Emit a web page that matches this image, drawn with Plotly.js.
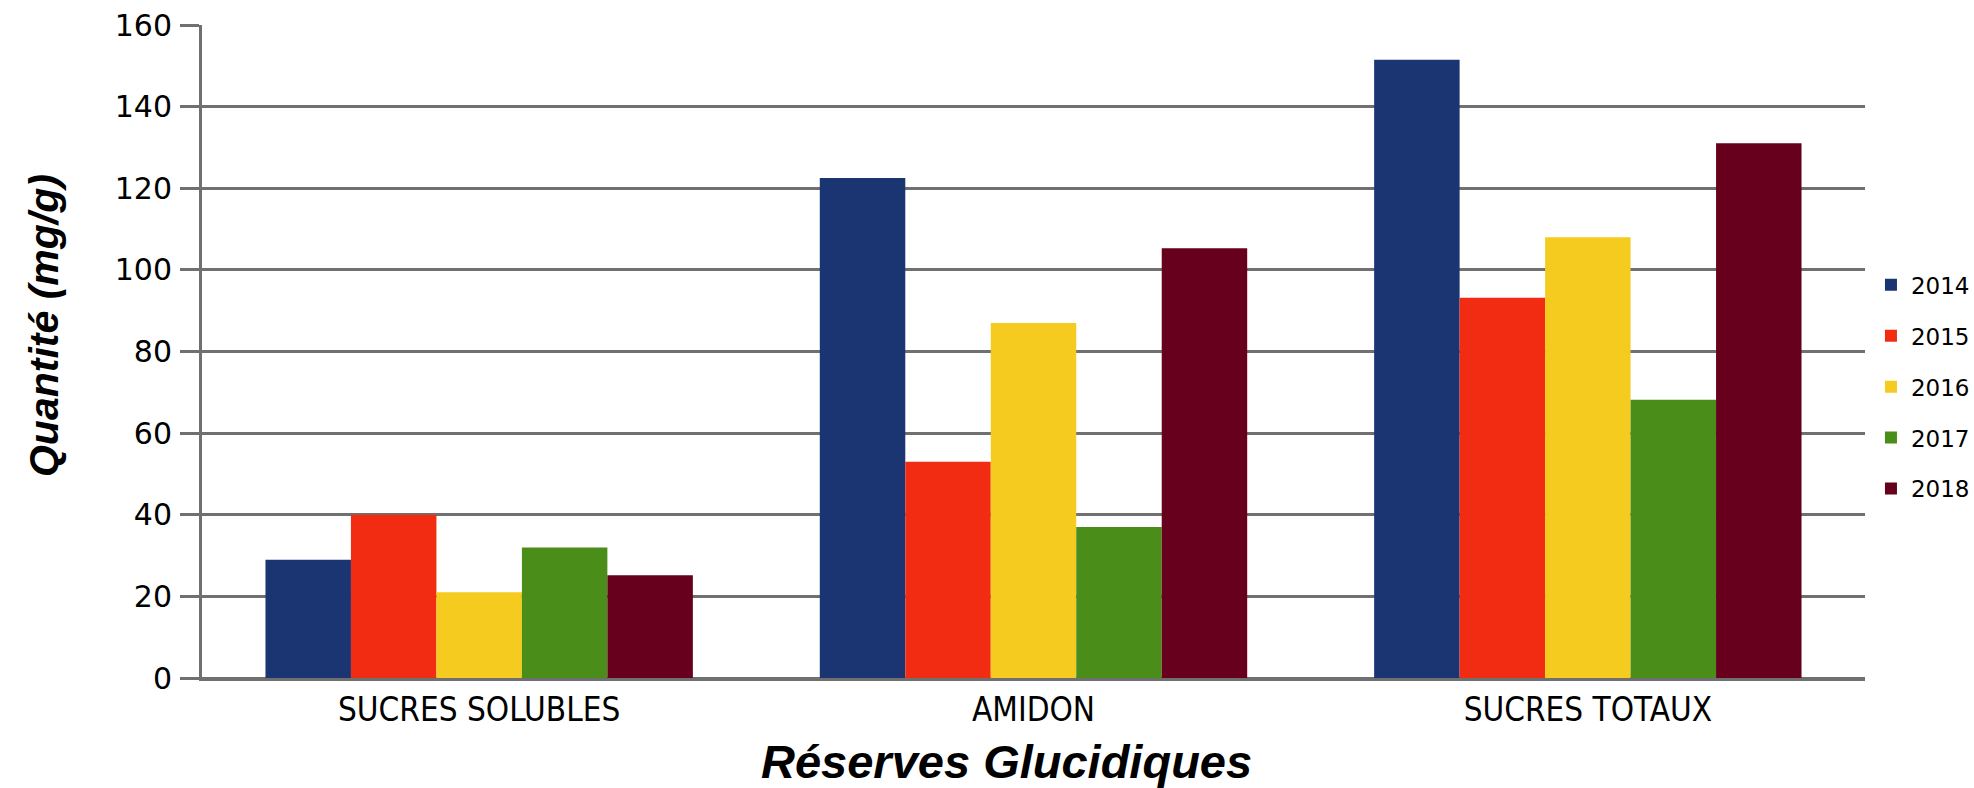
<!DOCTYPE html>
<html>
<head>
<meta charset="utf-8">
<script src="https://cdn.plot.ly/plotly-3.0.1.min.js"></script>
<style>
html,body{margin:0;padding:0;background:#fff;}
#chart{width:1974px;height:788px;}
</style>
</head>
<body>
<div id="chart"></div>
<script>
const categories = ["SUCRES SOLUBLES", "AMIDON", "SUCRES TOTAUX"];
const seriesNames = ["2014", "2015", "2016", "2017", "2018"];
const v2014 = [29, 122.5, 151.5];
const v2015 = [40, 53, 93.2];
const v2016 = [21, 87, 108];
const v2017 = [32, 37, 68.2];
const v2018 = [25.2, 105.3, 131];
const yTicks = [0, 20, 40, 60, 80, 100, 120, 140, 160];
const xTitle = "Réserves Glucidiques";
const yTitle = "Quantité (mg/g)";

const seriesValues = [v2014, v2015, v2016, v2017, v2018];
const colors = ["#1a3571", "#f22c13", "#f5cb1f", "#4a8e19", "#67001d"];

const traces = seriesNames.map((name, i) => ({
  type: "bar",
  name: name,
  x: categories,
  y: seriesValues[i],
  marker: {color: colors[i], line: {width: 0}},
  legendgroup: "g" + i,
  hoverinfo: "x+y+name"
}));

const grid = "#707070";

const layout = {
  width: 1974,
  height: 788,
  paper_bgcolor: "#ffffff",
  plot_bgcolor: "#ffffff",
  margin: {l: 202, r: 109, t: 25, b: 110},
  barmode: "group",
  bargap: 0.229,
  bargroupgap: 0,
  showlegend: true,
  legend: {
    xref: "container", yref: "container",
    x: 0.9478, y: 0.509, xanchor: "left", yanchor: "middle",
    font: {family: "DejaVu Sans", size: 23, color: "#000"},
    traceorder: "grouped",
    tracegroupgap: 18,
    bgcolor: "rgba(0,0,0,0)",
    borderwidth: 0
  },
  xaxis: {
    type: "category",
    showgrid: false,
    showline: true,
    linecolor: grid,
    linewidth: 3,
    ticks: "",
    tickfont: {family: "Liberation Sans Narrow, DejaVu Sans Condensed, Liberation Sans", size: 33, color: "#000"},
    ticklabelstandoff: 0,
    automargin: false,
    fixedrange: true
  },
  yaxis: {
    range: [0, 160],
    tickvals: yTicks,
    ticktext: yTicks.map(String),
    showgrid: true,
    gridcolor: grid,
    gridwidth: 3,
    zeroline: true,
    zerolinecolor: grid,
    zerolinewidth: 3,
    showline: true,
    linecolor: grid,
    linewidth: 3,
    ticks: "outside",
    ticklen: 19,
    tickwidth: 3,
    tickcolor: grid,
    ticklabelstandoff: 2,
    tickfont: {family: "DejaVu Sans", size: 30, color: "#000"},
    automargin: false,
    fixedrange: true
  },
  annotations: [
    {
      text: "<b><i>" + xTitle + "</i></b>",
      xref: "paper", yref: "paper",
      x: 0.4835, y: -0.084,
      xanchor: "center", yanchor: "top",
      showarrow: false,
      font: {family: "Liberation Sans", size: 47, color: "#000"}
    },
    {
      text: "<b><i>" + yTitle + "</i></b>",
      xref: "paper", yref: "paper",
      x: -0.095, y: 0.539,
      xanchor: "center", yanchor: "middle",
      textangle: -90,
      showarrow: false,
      font: {family: "Liberation Sans", size: 41, color: "#000"}
    }
  ]
};

Plotly.newPlot("chart", traces, layout, {displayModeBar: false, staticPlot: true});
</script>
</body>
</html>
